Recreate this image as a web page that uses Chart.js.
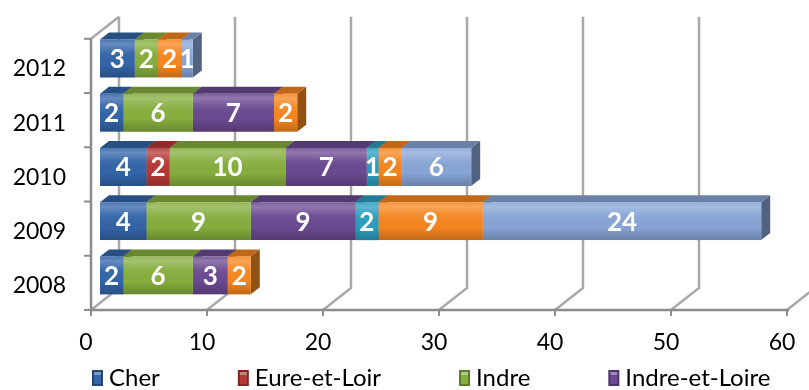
<!DOCTYPE html>
<html>
<head>
<meta charset="utf-8">
<script src="https://cdn.jsdelivr.net/npm/chart.js@4.4.1/dist/chart.umd.min.js"></script>
<style>
  html, body { margin: 0; padding: 0; background: #fff; }
  #wrap { width: 809px; height: 390px; }
</style>
</head>
<body>
<div id="wrap"><canvas id="chart"></canvas></div>
<script>
// data
const years = ['2012', '2011', '2010', '2009', '2008'];
const cher = [3, 2, 4, 4, 2];
const eureEtLoir = [0, 0, 2, 0, 0];
const indre = [2, 6, 10, 9, 6];
const indreEtLoire = [0, 7, 7, 9, 3];
const loirEtCher = [0, 0, 1, 2, 0];
const loiret = [2, 2, 2, 9, 2];
const autres = [1, 0, 6, 24, 0];
const xTicks = [0, 10, 20, 30, 40, 50, 60];

const seriesNames = ['Cher', 'Eure-et-Loir', 'Indre', 'Indre-et-Loire', 'Loir-et-Cher', 'Loiret', 'Autres'];
const seriesData = [cher, eureEtLoir, indre, indreEtLoire, loirEtCher, loiret, autres];
const seriesColors = ['#3365a8', '#b53a36', '#86ae3e', '#6b4a91', '#2b9dbf', '#f5861f', '#87a5d6'];
const legendCount = 4; // only the first items fit in the picture

const FONT = "Lato, 'Open Sans', sans-serif";

// 3d offsets
const DX = 28, DY = -22;    // wall depth
const BX = 9, BY = -7.5;    // front face of the bars
const EX = 9, EY = -7;      // bar extrusion

function shade(hex, f) {
  const n = parseInt(hex.slice(1), 16);
  const r = Math.round(((n >> 16) & 255) * f);
  const g = Math.round(((n >> 8) & 255) * f);
  const b = Math.round((n & 255) * f);
  return `rgb(${r},${g},${b})`;
}

const threeD = {
  id: 'threeD',
  beforeDatasetsDraw(chart) {
    const { ctx, chartArea: a, scales: { x } } = chart;
    ctx.save();
    ctx.lineWidth = 2.5;
    ctx.strokeStyle = '#a8a8a8';
    xTicks.forEach(v => {
      const px = x.getPixelForValue(v);
      ctx.beginPath();
      ctx.moveTo(px, a.bottom);
      ctx.lineTo(px + DX, a.bottom + DY);
      ctx.lineTo(px + DX, a.top + DY);
      ctx.stroke();
    });
    ctx.beginPath();
    ctx.moveTo(a.left, a.top);
    ctx.lineTo(a.left + DX, a.top + DY);
    ctx.stroke();

    ctx.strokeStyle = '#8c8c8c';
    ctx.beginPath();
    ctx.moveTo(a.left, a.top);
    ctx.lineTo(a.left, a.bottom);
    ctx.lineTo(a.right + 2, a.bottom);
    ctx.stroke();
    ctx.lineWidth = 2;
    xTicks.forEach(v => {
      const px = x.getPixelForValue(v);
      ctx.beginPath();
      ctx.moveTo(px, a.bottom);
      ctx.lineTo(px, a.bottom + 6);
      ctx.stroke();
    });
    for (let i = 0; i <= years.length; i++) {
      const py = a.top + i * (a.bottom - a.top) / years.length;
      ctx.beginPath();
      ctx.moveTo(a.left - 7, py);
      ctx.lineTo(a.left, py);
      ctx.stroke();
    }
    ctx.restore();

    // bars are drawn shifted into the depth, restored in afterDatasetsDraw
    ctx.save();
    ctx.translate(BX, BY);
    ['side', 'top'].forEach(face => {
      chart.data.datasets.forEach((ds, di) => {
        const meta = chart.getDatasetMeta(di);
        meta.data.forEach((el, j) => {
          if (!ds.data[j]) return;
          const l = el.base, r = el.x, t = el.y - el.height / 2, b = el.y + el.height / 2;
          ctx.beginPath();
          if (face === 'side') {
            ctx.moveTo(r, t);
            ctx.lineTo(r + EX, t + EY);
            ctx.lineTo(r + EX, b + EY);
            ctx.lineTo(r, b);
            ctx.fillStyle = shade(seriesColors[di], 0.6);
          } else {
            ctx.moveTo(l, t);
            ctx.lineTo(r, t);
            ctx.lineTo(r + EX, t + EY);
            ctx.lineTo(l + EX, t + EY);
            ctx.fillStyle = shade(seriesColors[di], 0.78);
          }
          ctx.closePath();
          ctx.fill();
        });
      });
    });
  },
  afterDatasetsDraw(chart) {
    const { ctx } = chart;
    chart.data.datasets.forEach((ds, di) => {
      const meta = chart.getDatasetMeta(di);
      meta.data.forEach((el, j) => {
        if (!ds.data[j]) return;
        const l = el.base, r = el.x, t = el.y - el.height / 2, b = el.y + el.height / 2;
        const g = ctx.createLinearGradient(0, t, 0, b);
        g.addColorStop(0, 'rgba(255,255,255,0.10)');
        g.addColorStop(0.12, 'rgba(255,255,255,0.25)');
        g.addColorStop(0.35, 'rgba(255,255,255,0.05)');
        g.addColorStop(0.65, 'rgba(0,0,0,0)');
        g.addColorStop(1, 'rgba(0,0,0,0.22)');
        ctx.fillStyle = g;
        ctx.fillRect(l, t, r - l, b - t);
      });
    });
    ctx.fillStyle = '#fff';
    ctx.font = `bold 26px ${FONT}`;
    ctx.textAlign = 'center';
    ctx.textBaseline = 'middle';
    chart.data.datasets.forEach((ds, di) => {
      const meta = chart.getDatasetMeta(di);
      meta.data.forEach((el, j) => {
        if (!ds.data[j]) return;
        ctx.fillText(String(ds.data[j]), (el.base + el.x) / 2, el.y + 1);
      });
    });
    ctx.restore();
  },
  afterDraw(chart) {
    const { ctx } = chart;
    ctx.save();
    ctx.font = `24px ${FONT}`;
    ctx.textBaseline = 'middle';
    ctx.textAlign = 'left';
    let px = 92;
    const cy = 378;
    for (let i = 0; i < legendCount; i++) {
      const col = seriesColors[i];
      ctx.fillStyle = shade(col, 0.7);
      ctx.fillRect(px, cy - 8, 11, 16);
      ctx.fillStyle = col;
      ctx.fillRect(px + 2, cy - 6, 7, 12);
      ctx.fillStyle = 'rgba(255,255,255,0.35)';
      ctx.fillRect(px + 2, cy - 6, 7, 3);
      ctx.fillStyle = '#000';
      ctx.fillText(seriesNames[i], px + 17, cy);
      px += 17 + ctx.measureText(seriesNames[i]).width + 78;
    }
    ctx.restore();
  }
};

new Chart(document.getElementById('chart'), {
  type: 'bar',
  data: {
    labels: years,
    datasets: seriesNames.map((name, i) => ({
      label: name,
      data: seriesData[i],
      backgroundColor: seriesColors[i],
      borderWidth: 0,
      categoryPercentage: 1,
      barPercentage: 0.7,
      clip: false
    }))
  },
  options: {
    indexAxis: 'y',
    responsive: true,
    maintainAspectRatio: false,
    animation: false,
    layout: { padding: { left: 0, right: 22, top: 38, bottom: 30 } },
    plugins: {
      legend: { display: false },
      tooltip: { enabled: false }
    },
    scales: {
      x: {
        stacked: true,
        min: 0,
        max: 60,
        afterBuildTicks: s => { s.ticks = xTicks.map(v => ({ value: v })); },
        afterFit: s => { s.height = 50; s.paddingRight = 0; s.paddingLeft = 0; },
        grid: { display: false, drawTicks: false },
        border: { display: false },
        ticks: { color: '#000', font: { family: FONT, size: 23 }, padding: 19, labelOffset: -5 }
      },
      y: {
        stacked: true,
        afterFit: s => { s.width = 91; },
        grid: { display: false, drawTicks: false },
        border: { display: false },
        ticks: { color: '#000', font: { family: FONT, size: 23 }, padding: 25, labelOffset: 3 }
      }
    }
  },
  plugins: [threeD]
});
</script>
</body>
</html>
